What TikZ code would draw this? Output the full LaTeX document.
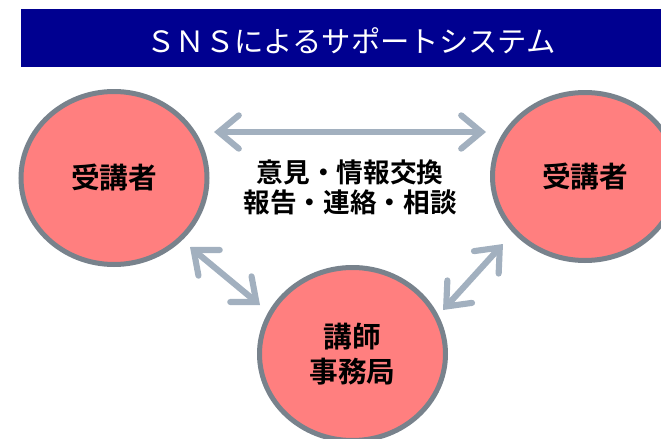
\documentclass[tikz,border=0pt]{standalone}
\usepackage{fontspec}
\newfontfamily\jp{Noto Sans CJK JP}
\newfontfamily\jpb{Noto Sans CJK JP Bold}
\usetikzlibrary{shapes.geometric,arrows.meta}
\definecolor{navy}{HTML}{000090}
\definecolor{salmon}{HTML}{FF7F7F}
\definecolor{rim}{HTML}{78828C}
\definecolor{arr}{HTML}{A2B0BF}
\begin{document}
\begin{tikzpicture}[x=0.75pt,y=-0.75pt,
  person/.style={ellipse,draw=rim,fill=salmon,line width=3.75pt,inner sep=0pt,
    font=\jpb\fontsize{21.5pt}{26pt}\selectfont,align=center},
  link/.style={draw=arr,line width=4.6pt,line cap=round,
    {Straight Barb[length=15pt,width=25pt,line cap=round]}-{Straight Barb[length=15pt,width=25pt,line cap=round]}}]
\useasboundingbox (0,0) rectangle (661,439);
\node[fill=navy,minimum width=480pt,minimum height=43.5pt,inner sep=0pt,anchor=north west] (bar) at (21,9) {};
\node[text=white,font=\jp\fontsize{22pt}{24pt}\selectfont] (title) at (351,41) {ＳＮＳによるサポートシステム};
\node[person,minimum width=139.5pt,minimum height=129.75pt] (L) at (114,178) {受講者};
\node[person,minimum width=138.75pt,minimum height=126pt] (R) at (585,176.5) {受講者};
\node[person,minimum width=139.5pt,minimum height=129.75pt] (B) at (352.5,354) {講師\\[0pt]事務局};
\node[font=\jpb\fontsize{20pt}{22.5pt}\selectfont,align=center] (mid) at (350,187) {意見・情報交換\\報告・連絡・相談};
\coordinate (t1) at (214,132);
\coordinate (t2) at (486,132);
\coordinate (l1) at (190,247);
\coordinate (l2) at (260,305);
\coordinate (r1) at (503,244);
\coordinate (r2) at (443,310);
\draw[link] (t1) -- (t2);
\draw[link] (l1) -- (l2);
\draw[link] (r1) -- (r2);
\end{tikzpicture}
\end{document}
